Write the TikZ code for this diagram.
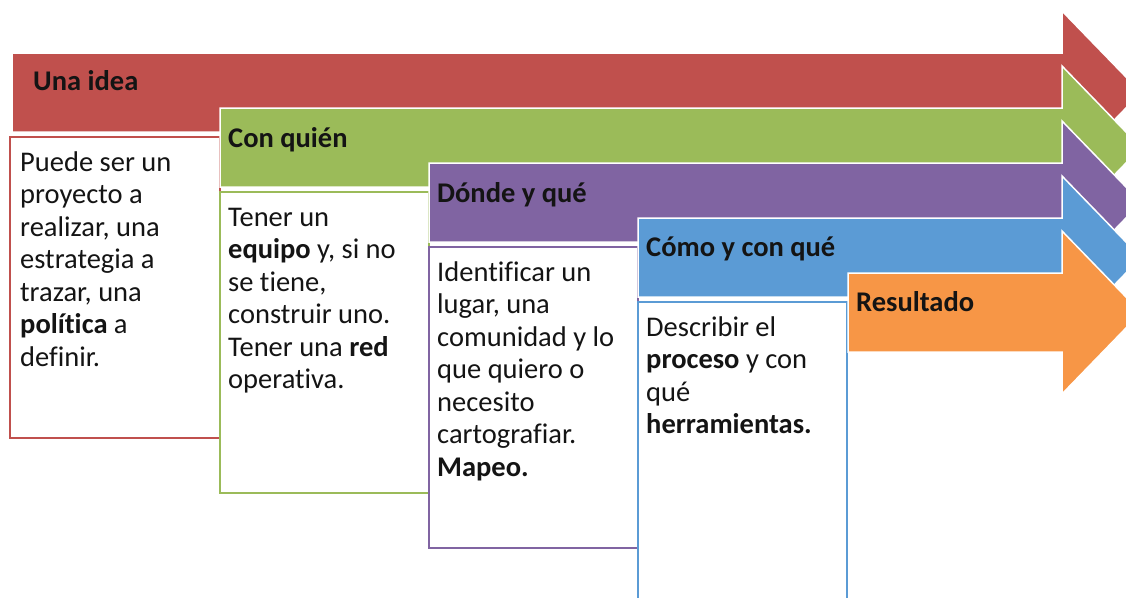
\documentclass[tikz,border=0pt]{standalone}
\usepackage{fontspec}
\setmainfont{Carlito}[RawFeature={-liga;-clig;-dlig}]
\definecolor{cRed}{HTML}{C0504D}
\definecolor{cGreen}{HTML}{9BBB59}
\definecolor{cPurple}{HTML}{8064A2}
\definecolor{cBlue}{HTML}{5B9BD5}
\definecolor{cOrange}{HTML}{F79646}
\definecolor{cText}{HTML}{141414}
\newcommand\flecha[3]{%
  \draw[flechasty, fill=#3] (#1,#2) -- (1062,#2) -- (1062,#2-42) -- (1141,#2+39.5)
    -- (1062,#2+121) -- (1062,#2+79) -- (#1,#2+79) -- cycle;}
\begin{document}
\begin{tikzpicture}[x=1pt,y=-1pt,
  flechasty/.style={draw=white, line width=1.5pt, line join=miter},
  cajasty/.style={fill=white, line width=2pt},
  titulo/.style={anchor=base west, inner sep=0pt, text=cText, font=\fontsize{28.5}{32.5}\selectfont\bfseries},
  cuerpo/.style={anchor=north west, inner sep=0pt, text=cText, align=left, font=\fontsize{28.5}{32.5}\selectfont}]
\useasboundingbox (0,0) rectangle (1126,597);
\clip (0,0) rectangle (1126,597);
\fill[white] (0,0) rectangle (1126,597);
% row 1
\flecha{12}{53}{cRed}
\node[titulo] (t1) at (33,90) {Una idea};
\draw[cajasty, draw=cRed] (10,137) rectangle (220,438);
\node[cuerpo] (b1) at (20,147) {\rule{0pt}{24pt}Puede ser un\\proyecto a\\realizar, una\\estrategia a\\trazar, una\\\textbf{política} a\\definir.};
% row 2
\flecha{220}{108}{cGreen}
\node[titulo] (t2) at (228,147) {Con quién};
\draw[cajasty, draw=cGreen] (220,192) rectangle (429,493);
\node[cuerpo] (b2) at (228,202) {\rule{0pt}{24pt}Tener un\\\textbf{equipo} y, si no\\se tiene,\\construir uno.\\Tener una \textbf{red}\\operativa.};
% row 3
\flecha{429}{163}{cPurple}
\node[titulo] (t3) at (437,202) {Dónde y qué};
\draw[cajasty, draw=cPurple] (429,247) rectangle (638,548);
\node[cuerpo] (b3) at (437,257) {\rule{0pt}{24pt}Identificar un\\lugar, una\\comunidad y lo\\que quiero o\\necesito\\cartografiar.\\\textbf{Mapeo.}};
% row 4
\flecha{638}{218}{cBlue}
\node[titulo] (t4) at (646,256) {Cómo y con qué};
\draw[cajasty, draw=cBlue] (638,302) rectangle (847,640);
\node[cuerpo] (b4) at (646,312) {\rule{0pt}{24pt}Describir el\\\textbf{proceso} y con\\qué\\\textbf{herramientas.}};
% row 5
\flecha{848}{273}{cOrange}
\node[titulo] (t5) at (856,311) {Resultado};
\end{tikzpicture}
\end{document}
